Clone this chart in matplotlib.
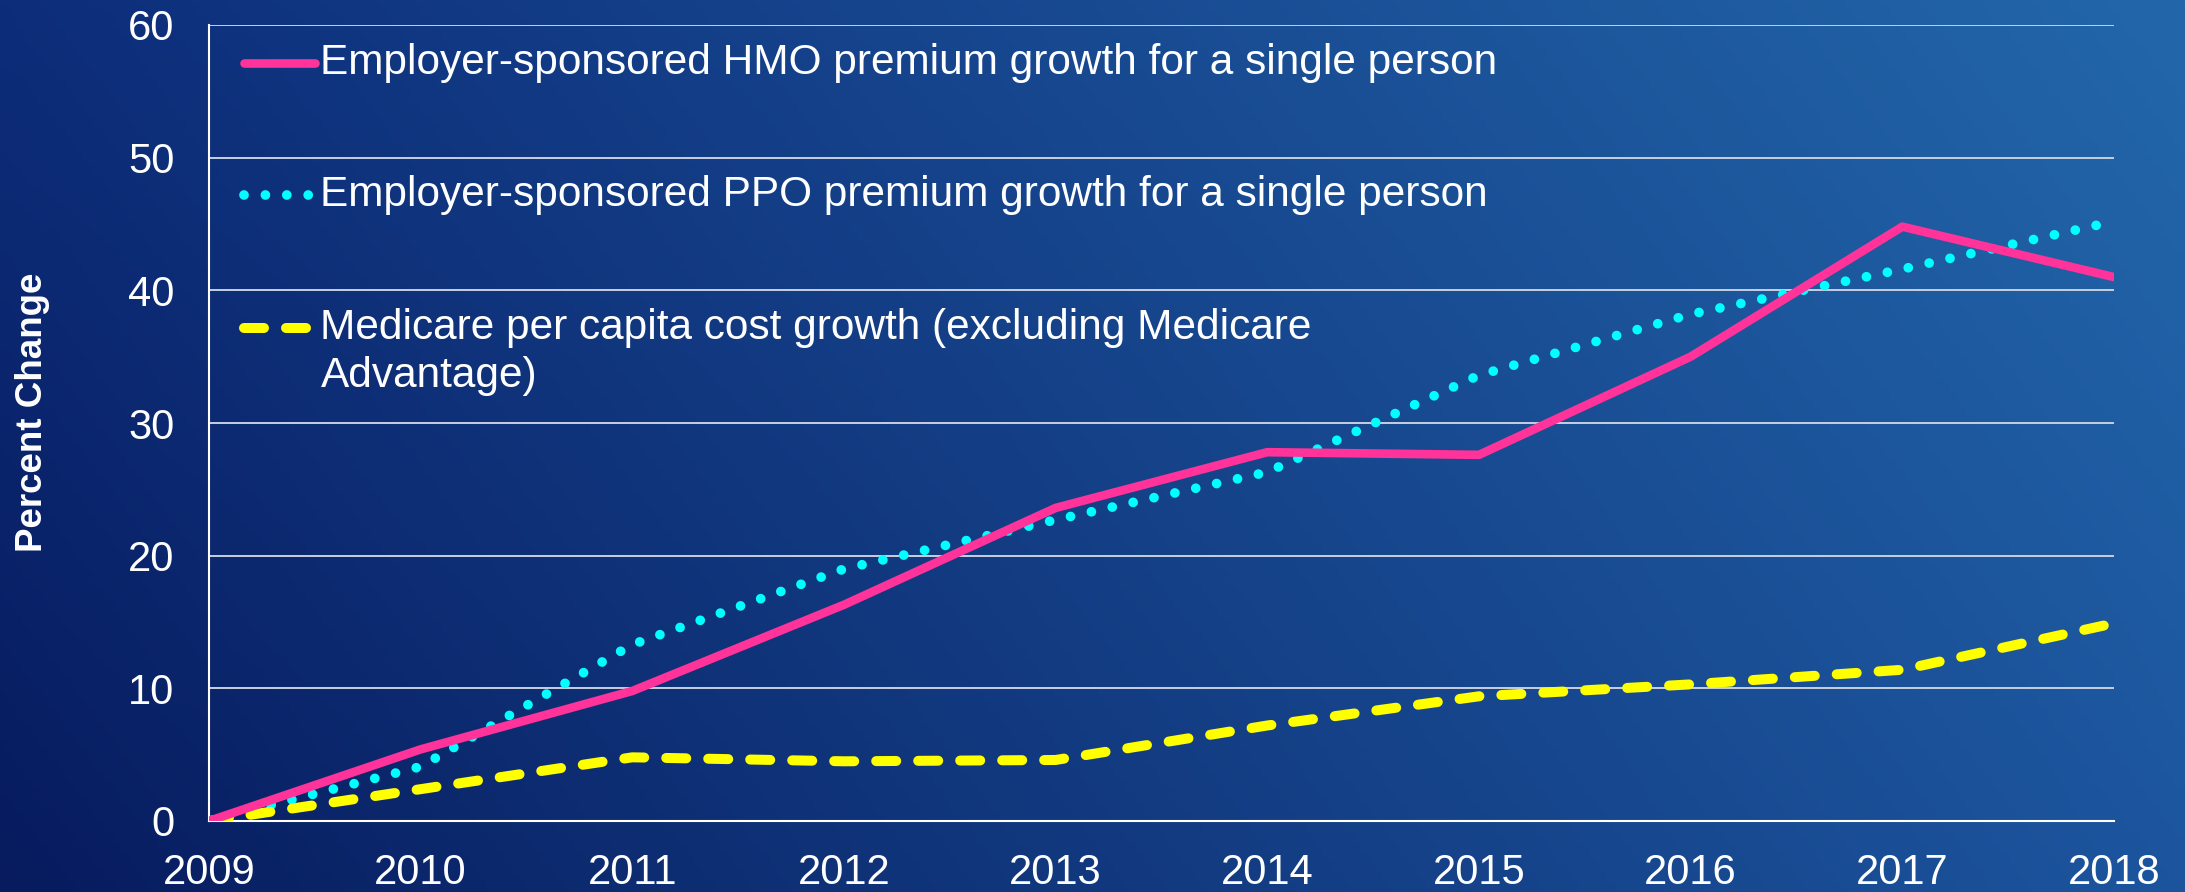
import numpy as np
import matplotlib
matplotlib.use("Agg")
import matplotlib.pyplot as plt

years = [2009, 2010, 2011, 2012, 2013, 2014, 2015, 2016, 2017, 2018]
hmo = [0, 5.4, 9.8, 16.3, 23.6, 27.8, 27.6, 35.0, 44.8, 41.0]
ppo = [0, 4.1, 13.3, 19.0, 22.7, 26.3, 33.6, 38.2, 41.6, 45.2]
medicare = [0, 2.4, 4.8, 4.5, 4.6, 7.2, 9.4, 10.3, 11.4, 14.9]
labels = [
    "Employer-sponsored HMO premium growth for a single person",
    "Employer-sponsored PPO premium growth for a single person",
    "Medicare per capita cost growth (excluding Medicare\nAdvantage)",
]
yticks = [0, 10, 20, 30, 40, 50, 60]

plt.rcParams['font.family'] = ['Liberation Sans', 'DejaVu Sans']

W, H = 2185, 892
fig = plt.figure(figsize=(W / 100, H / 100), dpi=100)

# background gradient
bg = fig.add_axes([0, 0, 1, 1], zorder=0)
bg.set_axis_off()
c_bl = np.array([0x07, 0x1b, 0x5e]) / 255
c_tl = np.array([0x0d, 0x2d, 0x7a]) / 255
c_tr = np.array([0x23, 0x67, 0xaa]) / 255
c_br = np.array([0x1c, 0x55, 0x9e]) / 255
u = np.linspace(0, 1, 400)[None, :, None]
v = np.linspace(0, 1, 200)[:, None, None]  # 0 = top
top = c_tl * (1 - u) + c_tr * u
bot = c_bl * (1 - u) + c_br * u
img = top * (1 - v) + bot * v
bg.imshow(img, aspect='auto', extent=[0, 1, 0, 1], origin='upper')
bg.set_xlim(0, 1)
bg.set_ylim(0, 1)

ax = fig.add_axes([209 / W, 1 - 821 / H, (2114 - 209) / W, (821 - 25) / H], zorder=1)
ax.patch.set_alpha(0)

for y in yticks[1:]:
    ax.axhline(y, color='#c8d0e0', lw=1.4, zorder=1)

styles = [
    dict(color='#ff3399', lw=6.2, ls='-', solid_capstyle='round', solid_joinstyle='round'),
    dict(color='#00ffff', lw=7.0, ls=(0, (0.001, 2.2)), dash_capstyle='round'),
    dict(color='#ffff00', lw=7.2, ls=(0, (2.0, 2.2)), dash_capstyle='round'),
]
ax.plot(years, hmo, zorder=4, **styles[0])
ax.plot(years, ppo, zorder=3, **styles[1])
ax.plot(years, medicare, zorder=3, **styles[2])

ax.set_xlim(2009, 2018)
ax.set_ylim(0, 60)
ax.set_xticks(years)
ax.set_yticks(yticks)
ax.tick_params(axis='both', length=0, colors='white', labelsize=30)
ax.tick_params(axis='y', pad=25)
ax.tick_params(axis='x', pad=23)
for s in ['top', 'right']:
    ax.spines[s].set_visible(False)
ax.spines['left'].set_color('white')
ax.spines['left'].set_linewidth(1.5)
ax.spines['bottom'].set_color('white')
ax.spines['bottom'].set_linewidth(1.5)
ax.set_ylabel('Percent Change', color='white', fontsize=26.5, fontweight='bold')
ax.yaxis.set_label_coords(-0.0836, 0.513)

# legend drawn manually in axes coordinates
rows = [0.952, 0.786, 0.619]
line_step = 0.0603
for yrow, kw, lab in zip(rows, styles, labels):
    ax.plot([0.0185, 0.0555], [yrow, yrow], transform=ax.transAxes, clip_on=False, **kw)
    for i, part in enumerate(lab.split('\n')):
        ax.text(0.0585, yrow - i * line_step, part, transform=ax.transAxes, color='white',
                fontsize=30.5, va='center', ha='left')

fig.savefig('out.png', dpi=100)
